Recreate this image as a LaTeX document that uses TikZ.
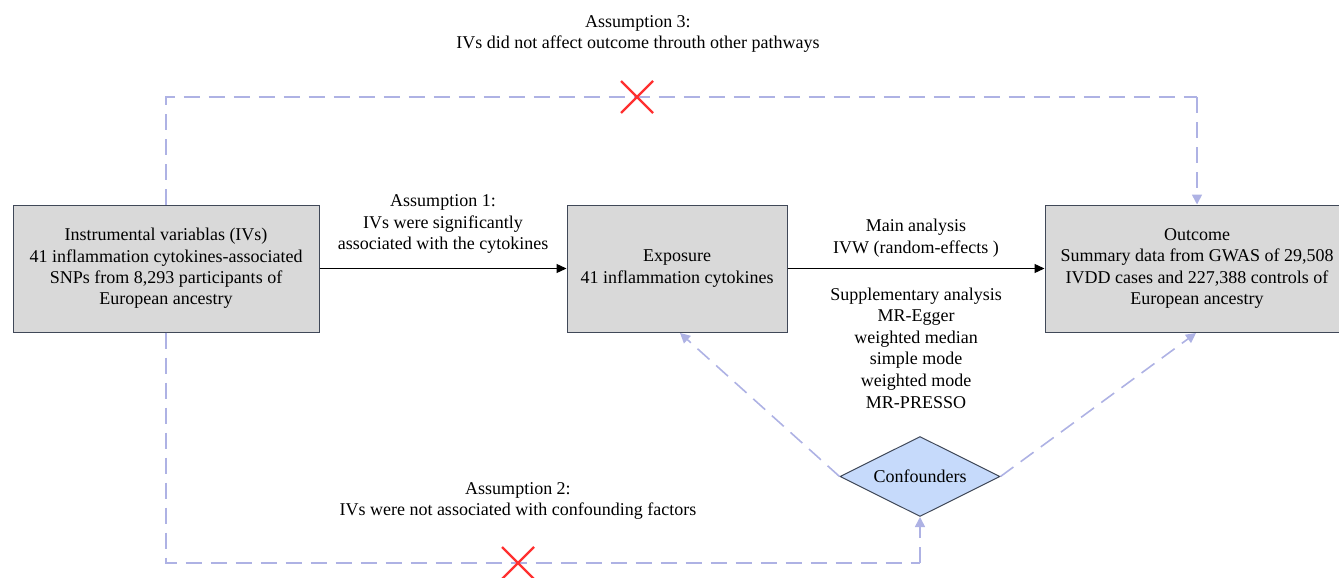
\documentclass[tikz,border=0pt]{standalone}
\usepackage{fontspec}
\setmainfont{Liberation Serif}
\usetikzlibrary{arrows.meta,shapes.geometric}
\definecolor{boxfill}{HTML}{D9D9D9}
\definecolor{boxline}{HTML}{404858}
\definecolor{dashcol}{HTML}{AEB2E4}
\definecolor{diafill}{HTML}{C6DAFB}
\definecolor{crosscol}{HTML}{FF3030}
\tikzset{
  box/.style={draw=boxline,fill=boxfill,line width=1pt,minimum height=127pt,align=center,inner sep=0pt,font=\fontsize{18}{21.4}\selectfont},
  lbl/.style={align=center,inner sep=0pt,font=\fontsize{18}{21.6}\selectfont},
  dline/.style={draw=dashcol,line width=1.6pt,dash pattern=on 16pt off 9pt},
  darrow/.style={dline,-{Triangle[length=10pt,width=10pt]}},
  barrow/.style={draw=black,line width=1.3pt,-{Triangle[length=10pt,width=9pt]}},
  xmark/.style={draw=crosscol,line width=2.4pt}
}
\begin{document}
\begin{tikzpicture}[x=1pt,y=-1pt]
\useasboundingbox (0,0) rectangle (1339,578);
\begin{scope}
\clip (0,0) rectangle (1339,578);
\node[box,minimum width=306pt] (iv) at (166,268.5) {Instrumental variablas (IVs)\\41 inflammation cytokines-associated\\SNPs from 8,293 participants of\\European ancestry};
\node[box,minimum width=220pt] (exp) at (677,268.5) {Exposure\\41 inflammation cytokines};
\node[box,minimum width=304pt] (out) at (1197,268.5) {Outcome\\Summary data from GWAS of 29,508\\IVDD cases and 227,388 controls of\\European ancestry};
\node[diamond,draw=boxline,fill=diafill,line width=1pt,minimum width=160pt,minimum height=80pt,inner sep=0pt,aspect=2,font=\fontsize{18}{20}\selectfont] (conf) at (920,476.5) {Confounders};

% text labels
\node[lbl] (a3) at (638,34) {Assumption 3:\\IVs did not affect outcome throuth other pathways};
\node[lbl] (a1) at (443,224) {Assumption 1:\\IVs were significantly\\associated with the cytokines};
\node[lbl] (ma) at (916,238) {Main analysis\\IVW (random-effects )};
\node[lbl] (sa) at (916,348) {Supplementary analysis\\MR-Egger\\weighted median\\simple mode\\weighted mode\\MR-PRESSO};
\node[lbl] (a2) at (518,501) {Assumption 2:\\IVs were not associated with confounding factors};

% solid arrows
\draw[barrow] (iv.east) -- (exp.west);
\draw[barrow] (exp.east) -- (out.west);

% dashed paths
\coordinate (tl) at (166,97);
\coordinate (tr) at (1197,97);
\coordinate (bl) at (166,563);
\coordinate (br) at (920,563);
\draw[dline] (iv.north) -- (tl) -- (tr);
\draw[darrow] (tr) -- (out.north);
\draw[dline] (iv.south) -- (bl) -- (br);
\draw[darrow] (br) -- (conf.south);
\coordinate (e1) at (680,333);
\coordinate (o1) at (1196,333);
\draw[darrow] (conf.west) -- (e1);
\draw[darrow] (conf.east) -- (o1);

% red crosses
\coordinate (x1) at (637,97);
\coordinate (x2) at (518,563);
\draw[xmark] ([shift={(-16,-16)}]x1) -- ([shift={(16,16)}]x1);
\draw[xmark] ([shift={(16,-16)}]x1) -- ([shift={(-16,16)}]x1);
\draw[xmark] ([shift={(-16,-16)}]x2) -- ([shift={(16,16)}]x2);
\draw[xmark] ([shift={(16,-16)}]x2) -- ([shift={(-16,16)}]x2);
\end{scope}
\end{tikzpicture}
\end{document}
